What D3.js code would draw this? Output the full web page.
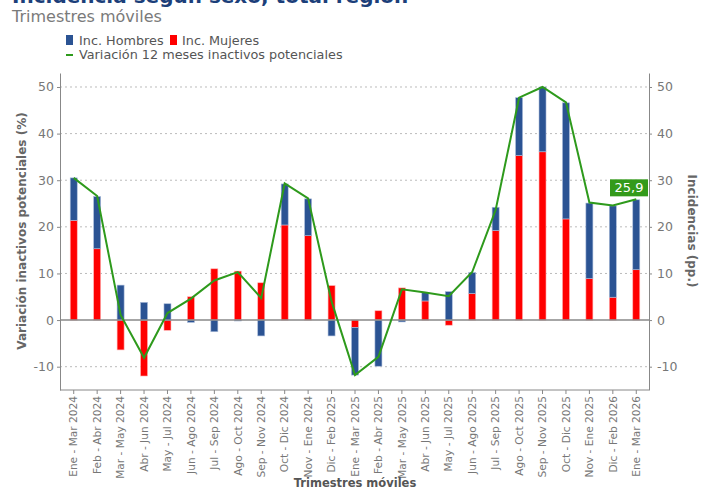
<!DOCTYPE html>
<html>
<head>
<meta charset="utf-8">
<script src="https://cdn.jsdelivr.net/npm/d3@7"></script>
<style>
  body { margin: 0; background: #fff; }
  svg { font-family: "DejaVu Sans", sans-serif; }
</style>
</head>
<body>
<div id="chart"></div>
<script>
const categories = [
  "Ene - Mar 2024", "Feb - Abr 2024", "Mar - May 2024", "Abr - Jun 2024", "May - Jul 2024",
  "Jun - Ago 2024", "Jul - Sep 2024", "Ago - Oct 2024", "Sep - Nov 2024", "Oct - Dic 2024",
  "Nov - Ene 2024", "Dic - Feb 2025", "Ene - Mar 2025", "Feb - Abr 2025", "Mar - May 2025",
  "Abr - Jun 2025", "May - Jul 2025", "Jun - Ago 2025", "Jul - Sep 2025", "Ago - Oct 2025",
  "Sep - Nov 2025", "Oct - Dic 2025", "Nov - Ene 2025", "Dic - Feb 2026", "Ene - Mar 2026"
];
const incMujeres = [21.4, 15.3, -6.4, -12.0, -2.2, 5.0, 11.0, 10.5, 8.0, 20.4,
  18.1, 7.4, -1.6, 2.0, 6.9, 4.1, -1.1, 5.7, 19.2, 35.3, 36.1, 21.7, 8.9, 4.9, 10.8];
const incHombres = [9.1, 11.2, 7.5, 3.8, 3.5, -0.5, -2.5, -0.2, -3.4, 8.8,
  7.9, -3.4, -10.2, -9.9, -0.4, 1.8, 6.1, 4.5, 5.0, 12.4, 13.9, 24.9, 16.2, 19.6, 15.0];
const variacion = [30.5, 26.6, 1.1, -8.1, 1.5, 4.6, 8.5, 10.3, 4.7, 29.3,
  26.1, 4.0, -11.8, -7.9, 6.6, 5.9, 5.1, 10.3, 23.6, 47.7, 50.0, 46.7, 25.2, 24.6, 25.9];
const yTicks = [-10, 0, 10, 20, 30, 40, 50];

const width = 706, height = 489;
const margin = { left: 60, right: 57, top: 73, bottom: 99 };
const plotW = width - margin.left - margin.right;

const svg = d3.select("#chart").append("svg")
  .attr("width", width).attr("height", height);

// title (cut at top in the reference)
svg.append("text").attr("x", 12).attr("y", 3)
  .attr("font-size", 20).attr("font-weight", "bold").attr("fill", "#1c3f7a")
  .text("Incidencia según sexo, total región");
svg.append("text").attr("x", 12).attr("y", 22)
  .attr("font-size", 16).attr("fill", "#7a7a7a")
  .text("Trimestres móviles");

// legend
const lg = svg.append("g").attr("font-size", 12.8).attr("fill", "#555");
lg.append("rect").attr("x", 66).attr("y", 35).attr("width", 7).attr("height", 10).attr("fill", "#2b5393");
lg.append("text").attr("x", 79).attr("y", 44.5).text("Inc. Hombres");
lg.append("rect").attr("x", 170).attr("y", 35).attr("width", 7).attr("height", 10).attr("fill", "#ff0000");
lg.append("text").attr("x", 182).attr("y", 44.5).text("Inc. Mujeres");
lg.append("line").attr("x1", 66).attr("x2", 73).attr("y1", 55).attr("y2", 55)
  .attr("stroke", "#2e9a1c").attr("stroke-width", 2);
lg.append("text").attr("x", 79).attr("y", 59).text("Variación 12 meses inactivos potenciales");

const x = d3.scaleBand().domain(categories)
  .range([margin.left + 2, margin.left + plotW - 1]);
const y = d3.scaleLinear().domain([-15, 53]).range([390, 73]);

// gridlines
svg.append("g").selectAll("line").data(yTicks.filter(d => d !== 0)).join("line")
  .attr("x1", margin.left).attr("x2", margin.left + plotW)
  .attr("y1", d => y(d)).attr("y2", d => y(d))
  .attr("stroke", "#bbb").attr("stroke-dasharray", "2,3");

// stacked bars
const rows = categories.map((c, i) => ({ cat: c, Mujeres: incMujeres[i], Hombres: incHombres[i] }));
const series = d3.stack().keys(["Mujeres", "Hombres"]).offset(d3.stackOffsetDiverging)(rows);
const colors = { Mujeres: "#ff0000", Hombres: "#2b5393" };
const edge = { Mujeres: "#ffb3b3", Hombres: "#a9bbd9" };
const bw = 7;

svg.append("g").selectAll("g").data(series).join("g")
  .attr("fill", d => colors[d.key])
  .attr("stroke", d => edge[d.key]).attr("stroke-width", 0.6)
  .selectAll("rect").data(d => d).join("rect")
  .attr("x", d => x(d.data.cat) + x.bandwidth() / 2 - bw / 2)
  .attr("width", bw)
  .attr("y", d => y(Math.max(d[0], d[1])))
  .attr("height", d => Math.abs(y(d[0]) - y(d[1])));

// zero line
svg.append("line").attr("x1", margin.left).attr("x2", margin.left + plotW)
  .attr("y1", y(0)).attr("y2", y(0)).attr("stroke", "#888").attr("stroke-width", 1.5);

// variation line
const line = d3.line().x((d, i) => x(categories[i]) + x.bandwidth() / 2).y(d => y(d));
svg.append("path").datum(variacion).attr("d", line)
  .attr("fill", "none").attr("stroke", "#2e9a1c").attr("stroke-width", 2);

// last value label
const lastV = variacion[variacion.length - 1];
const lx = margin.left + plotW;
svg.append("rect").attr("x", lx - 39).attr("y", y(lastV) - 20).attr("width", 38).attr("height", 17)
  .attr("fill", "#339a1a");
svg.append("text").attr("x", lx - 20).attr("y", y(lastV) - 7)
  .attr("text-anchor", "middle").attr("font-size", 13).attr("fill", "#fff")
  .text(d3.format(".1f")(lastV).replace(".", ","));

// axes
const styleAxis = g => {
  g.selectAll(".domain").attr("stroke", "#888");
  g.selectAll(".tick line").attr("stroke", "#888");
  g.selectAll(".tick text").attr("fill", "#777").attr("font-family", "DejaVu Sans");
};
const fmt = d => String(d);
svg.append("g").attr("transform", `translate(${margin.left},0)`)
  .call(d3.axisLeft(y).tickValues(yTicks).tickFormat(fmt).tickSize(3).tickSizeOuter(0).tickPadding(3))
  .call(styleAxis)
  .call(g => g.selectAll(".tick text").attr("font-size", 12.5));
svg.append("g").attr("transform", `translate(${margin.left + plotW},0)`)
  .call(d3.axisRight(y).tickValues(yTicks).tickFormat(fmt).tickSize(3).tickSizeOuter(0).tickPadding(5))
  .call(styleAxis)
  .call(g => g.selectAll(".tick text").attr("font-size", 12.5));

const xAxis = svg.append("g").attr("transform", "translate(0,390)")
  .call(d3.axisBottom(x).tickSize(4).tickSizeOuter(0))
  .call(styleAxis);
xAxis.select(".domain").attr("d", `M${margin.left},0H${margin.left + plotW}`);
xAxis.selectAll(".tick text")
  .attr("font-size", 10.6)
  .attr("text-anchor", "end")
  .attr("transform", "rotate(-90)")
  .attr("x", -6).attr("y", 0).attr("dy", "0.35em");

// axis titles
svg.append("text").attr("transform", `translate(26,231) rotate(-90)`)
  .attr("text-anchor", "middle").attr("font-size", 12).attr("font-weight", "bold").attr("fill", "#666")
  .text("Variación inactivos potenciales (%)");
svg.append("text").attr("transform", `translate(688,231) rotate(90)`)
  .attr("text-anchor", "middle").attr("font-size", 12).attr("font-weight", "bold").attr("fill", "#666")
  .text("Incidencias (pp.)");
svg.append("text").attr("x", 355).attr("y", 487)
  .attr("text-anchor", "middle").attr("font-size", 11.5).attr("font-weight", "bold").attr("fill", "#555")
  .text("Trimestres móviles");
</script>
</body>
</html>
